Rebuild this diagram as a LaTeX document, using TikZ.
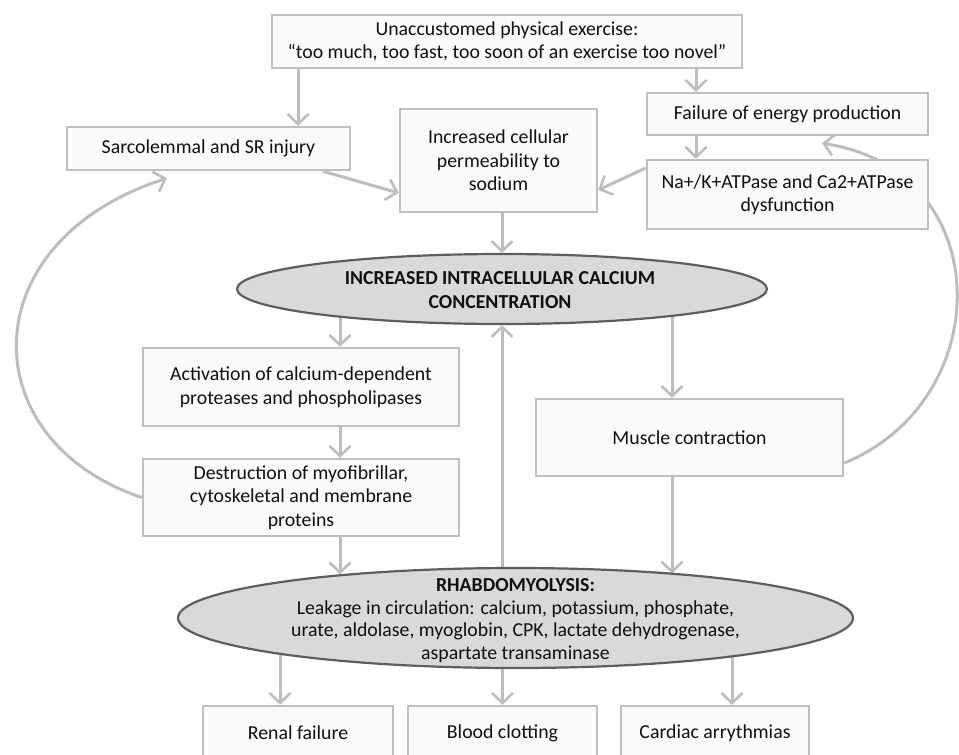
\documentclass[tikz,border=0pt]{standalone}
\usepackage{fontspec}
\setmainfont{Carlito}
\usetikzlibrary{shapes.geometric,arrows.meta,backgrounds}
\definecolor{boxc}{HTML}{BFBFBF}
\definecolor{boxfill}{HTML}{FAFAFA}
\definecolor{ellc}{HTML}{5E5E5E}
\definecolor{ellfill}{HTML}{D9D9D9}
\definecolor{arrc}{HTML}{BDBDBD}
\definecolor{txt}{HTML}{101010}
\tikzset{
  box/.style={draw=boxc, fill=boxfill, line width=2.5pt, align=center, inner sep=2pt, text=txt},
  ell/.style={ellipse, draw=ellc, fill=ellfill, line width=2.2pt, inner sep=0pt},
  etext/.style={align=center, inner sep=0pt, text=txt},
  arr/.style={draw=arrc, line width=3pt, -{Straight Barb[length=10pt,width=21pt,line width=2.6pt]}},
}
\begin{document}
\begin{tikzpicture}[x=1pt, y=-1pt, font=\fontsize{19.8}{23.5}\selectfont]
\useasboundingbox (0,0) rectangle (959,755);
\clip (0,0) rectangle (959,755);

% nodes
\node[box, minimum width=470, minimum height=53] (top) at (507,41.5)
  {Unaccustomed physical exercise:\\“too much, too fast, too soon of an exercise too novel”};
\node[box, minimum width=283, minimum height=43] (sarc) at (208.5,148.5) {Sarcolemmal and SR injury};
\node[box, minimum width=197, minimum height=103] (incr) at (498.5,160.5) {Increased cellular\\permeability to\\sodium};
\node[box, minimum width=281, minimum height=42] (fail) at (787.5,114) {Failure of energy production};
\node[box, minimum width=281, minimum height=69] (na) at (787.5,194.5) {Na+/K+ATPase and Ca2+ATPase\\dysfunction};

\node[ell, minimum width=530, minimum height=70] (ell1) at (502,289) {};
\node[etext] (ell1t) at (500,290) {\textbf{INCREASED INTRACELLULAR CALCIUM}\\\textbf{CONCENTRATION}};

\node[box, minimum width=316, minimum height=78] (act) at (301,387) {Activation of calcium-dependent\\proteases and phospholipases};
\node[box, minimum width=316, minimum height=77] (des) at (301,497.5) {Destruction of myofibrillar,\\cytoskeletal and membrane\\proteins};
\node[box, minimum width=307, minimum height=77] (mus) at (689.5,437.5) {Muscle contraction};

\node[ell, minimum width=675, minimum height=100] (ell2) at (515.5,618) {};
\node[etext, font=\fontsize{19.8}{22.5}\selectfont] (ell2t) at (515.5,620.5)
  {\textbf{RHABDOMYOLYSIS:}\\Leakage in circulation: calcium, potassium, phosphate,\\urate, aldolase, myoglobin, CPK, lactate dehydrogenase,\\aspartate transaminase};

\node[box, minimum width=190, minimum height=54] (renal) at (298,733) {Renal failure};
\node[box, minimum width=189, minimum height=54] (blood) at (502.5,733) {Blood clotting};
\node[box, minimum width=188, minimum height=54] (card) at (715,733) {Cardiac arrythmias};

% connectors
\begin{scope}[on background layer]
\fill[white] (0,0) rectangle (959,755);
\draw[arr] ([xshift=89.5pt]sarc.north |- top.south) -- ([xshift=89.5pt]sarc.north);
\draw[arr] ([xshift=-91.5pt]fail.north |- top.south) -- ([xshift=-91.5pt]fail.north);
\draw[arr] ([xshift=-91.5pt]fail.south) -- ([xshift=-91.5pt]na.north);
\draw[arr] ([xshift=114.5pt]sarc.south) -- ([yshift=-32.5pt]incr.west);
\draw[arr] ([yshift=26.5pt]na.west) -- ([yshift=-29.5pt]incr.east);
\draw[arr] (incr.south -| ell1.north) -- (ell1.north);
\draw[arr] ([xshift=39pt]act.north |- ell1.center) -- ([xshift=39pt]act.north);
\draw[arr] ([xshift=39pt]act.south) -- ([xshift=39pt]des.north);
\draw[arr] ([xshift=-17.5pt]mus.north |- ell1.center) -- ([xshift=-17.5pt]mus.north);
\draw[arr] ([xshift=39pt]des.south) -- ([xshift=39pt]des.south |- ell2.166.3);
\draw[arr] ([xshift=-17.5pt]mus.south) -- ([xshift=-17.5pt]mus.south |- ell2.15.8);
\draw[arr] (ell1.south |- ell2.center) -- (ell1.south);
\draw[arr] ([xshift=-18pt]renal.north |- ell2.center) -- ([xshift=-18pt]renal.north);
\draw[arr] (blood.north |- ell2.center) -- (blood.north);
\draw[arr] ([xshift=17pt]card.north |- ell2.center) -- ([xshift=17pt]card.north);
\draw[arr] (des.west) .. controls (-29,440) and (-29,241) .. ([xshift=-41.5pt,yshift=-7pt]sarc.south);
\draw[arr] ([yshift=-25.5pt]mus.east) .. controls (998,400) and (998,170) .. ([xshift=34.5pt,yshift=-7pt]fail.south);
\end{scope}
\end{tikzpicture}
\end{document}
